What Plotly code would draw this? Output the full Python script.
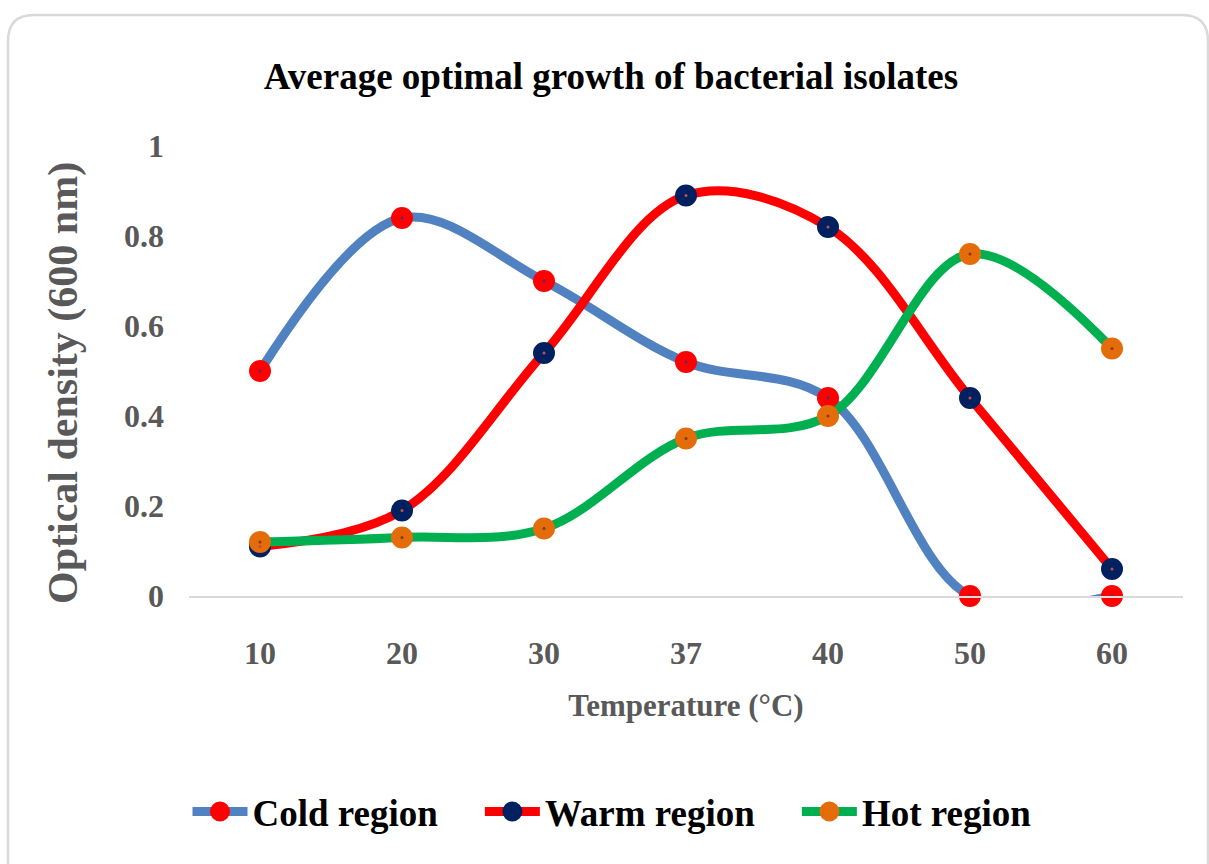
import plotly.graph_objects as go

# Growth temperatures (categorical axis) and mean optical density at 600 nm
temperatures = ["10", "20", "30", "37", "40", "50", "60"]
cold_region = [0.50, 0.84, 0.70, 0.52, 0.44, 0.00, 0.00]
warm_region = [0.11, 0.19, 0.54, 0.89, 0.82, 0.44, 0.06]
hot_region = [0.12, 0.13, 0.15, 0.35, 0.40, 0.76, 0.55]

series_names = ["Cold region", "Warm region", "Hot region"]
series_values = [cold_region, warm_region, hot_region]
line_colors = ["#5081c0", "#ff0000", "#00b050"]
marker_colors = ["#ff0000", "#002060", "#e46c0a"]
dot_colors = ["#5a2a6a", "#c0504d", "#8a3a08"]
# extra trailing gap after each legend entry
legend_pad = ["\u00a0\u00a0\u00a0\u00a0", "\u00a0\u00a0\u00a0\u00a0", ""]

FONT = "Liberation Serif, Times New Roman, serif"
W, H = 1209, 864
L, R, T, B = 189, 26, 146, 268
PW, PH = W - L - R, H - T - B


def px_x(px):
    return (px - L) / PW


def px_y(py):
    return (H - B - py) / PH


fig = go.Figure()

for name, pad, vals, lc, mc in zip(series_names, legend_pad, series_values,
                                   line_colors, marker_colors):
    fig.add_trace(go.Scatter(
        x=temperatures, y=vals, name=name + pad, mode="lines+markers",
        line=dict(color=lc, width=9, shape="spline", smoothing=1.0),
        marker=dict(color=mc, size=18, line=dict(color=mc, width=4)),
        cliponaxis=False, legendgroup=name,
    ))

# small centre dots on each marker
for name, vals, dc in zip(series_names, series_values, dot_colors):
    fig.add_trace(go.Scatter(
        x=temperatures, y=vals, mode="markers", showlegend=False,
        marker=dict(color=dc, size=3), hoverinfo="skip",
        cliponaxis=False, legendgroup=name,
    ))

# rounded chart frame
x0, x1 = 8, 1208
y0, y1 = 15, 900
rad = 26
frame = (
    f"M {px_x(x0)} {px_y(y1)} "
    f"L {px_x(x0)} {px_y(y0 + rad)} "
    f"Q {px_x(x0)} {px_y(y0)} {px_x(x0 + rad)} {px_y(y0)} "
    f"L {px_x(x1 - rad)} {px_y(y0)} "
    f"Q {px_x(x1)} {px_y(y0)} {px_x(x1)} {px_y(y0 + rad)} "
    f"L {px_x(x1)} {px_y(y1)}"
)

fig.update_layout(
    width=W, height=H,
    margin=dict(l=L, r=R, t=T, b=B),
    paper_bgcolor="white", plot_bgcolor="white",
    font=dict(family=FONT, color="#595959"),
    title=dict(
        text="<b>Average optimal growth of bacterial isolates</b>",
        font=dict(family=FONT, size=37, color="#000000"),
        x=px_x(611), xref="paper", xanchor="center",
        y=1 - 76 / H, yref="container", yanchor="middle",
    ),
    xaxis=dict(
        type="category", categoryorder="array", categoryarray=temperatures,
        range=[-0.5, 6.5], showgrid=False, zeroline=False,
        showline=True, linecolor="#d9d9d9", linewidth=2,
        ticks="", ticklabelstandoff=28,
        tickfont=dict(family=FONT, size=32, color="#595959", weight="bold"),
        title=dict(text="<b>Temperature (°C)</b>", standoff=24,
                   font=dict(family=FONT, size=31, color="#595959")),
    ),
    yaxis=dict(
        range=[0, 1], dtick=0.2, tick0=0, showgrid=False, zeroline=False,
        showline=False, ticks="", ticklabelstandoff=24,
        tickfont=dict(family=FONT, size=32, color="#595959", weight="bold"),
    ),
    annotations=[dict(
        text="<b>Optical density (600 nm)</b>", textangle=-90,
        xref="paper", yref="paper", x=px_x(63), y=px_y(383),
        xanchor="center", yanchor="middle", showarrow=False,
        font=dict(family=FONT, size=42, color="#595959"),
    )],
    legend=dict(
        orientation="h", x=px_x(612), xanchor="center",
        y=px_y(812), yanchor="middle", itemwidth=55,
        font=dict(family=FONT, size=37, color="#000000", weight="bold"),
        bgcolor="rgba(0,0,0,0)",
    ),
    shapes=[dict(type="path", xref="paper", yref="paper", path=frame,
                 line=dict(color="#d9d9d9", width=2.5), layer="below")],
    showlegend=True,
)

fig.write_html("out.html")
